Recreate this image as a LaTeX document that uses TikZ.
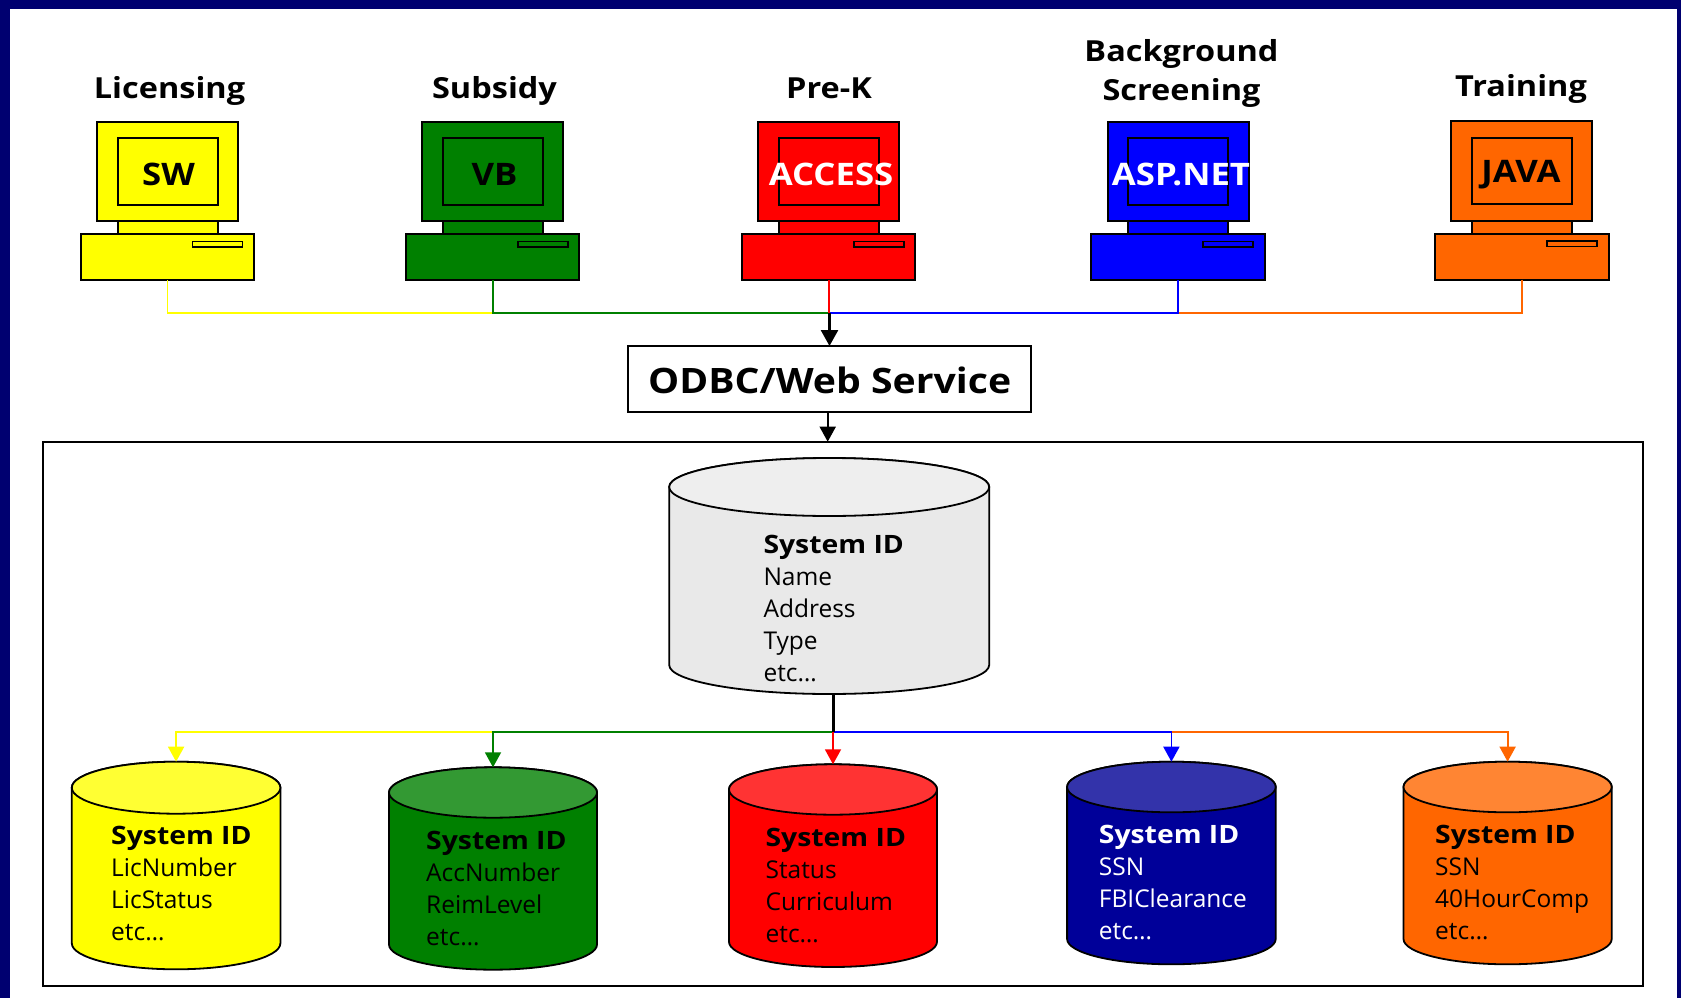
\documentclass[tikz,border=0pt]{standalone}
\usepackage{fontspec}
\setmainfont{Open Sans}[BoldFeatures={FakeStretch=1.12}]
\usetikzlibrary{arrows.meta,calc}
\definecolor{navyframe}{HTML}{000070}
\definecolor{cgreen}{HTML}{008000}\definecolor{cgreentop}{HTML}{339933}
\definecolor{cyellow}{HTML}{FFFF00}\definecolor{cyellowtop}{HTML}{FFFF33}
\definecolor{cred}{HTML}{FF0000}\definecolor{credtop}{HTML}{FF3333}
\definecolor{cblue}{HTML}{0000FF}
\definecolor{cnavy}{HTML}{000099}\definecolor{cnavytop}{HTML}{3333AA}
\definecolor{corange}{HTML}{FF6600}\definecolor{corangetop}{HTML}{FF8533}
\definecolor{cgrey}{HTML}{E9E9E9}\definecolor{cgreytop}{HTML}{EEEEEE}
\newcommand{\sysid}{{\fontsize{25.3}{32}\selectfont\bfseries System ID}}
\tikzset{
 x=1pt,y=-1pt,
 hw/.style={draw=black,line width=2pt,inner sep=0pt,outer sep=0pt},
 title/.style={font=\fontsize{29}{38}\selectfont\bfseries,inner sep=0pt,anchor=base},
 lang/.style={font=\fontsize{31}{38}\selectfont\bfseries,inner sep=0pt,anchor=base},
 dbtext/.style={font=\fontsize{24.5}{32}\selectfont,align=left,inner sep=0pt,anchor=base west},
 dbline/.style={draw=black,line width=1.8pt},
 wire/.style={line width=1.8pt},
 tip/.style={-{Triangle[length=15pt,width=16pt]}},
}
\newcommand{\pcnode}[4]{% name, cx, dy, colour
 \node[hw,fill=#4,minimum width=173.5pt,minimum height=46pt] (#1base) at (#2,257.2+#3) {};
 \node[hw,fill=#4,minimum width=100pt,minimum height=13pt] (#1neck) at (#2,227.7+#3) {};
 \node[hw,fill=#4,minimum width=141pt,minimum height=99.5pt] (#1mon) at (#2,171.5+#3) {};
 \node[hw,fill=#4,minimum width=100pt,minimum height=66.5pt] (#1scr) at (#2,171.5+#3) {};
 \node[hw,fill=#4,line width=1.6pt,minimum width=50pt,minimum height=5.5pt] (#1slot) at (#2+50,244.2+#3) {};
}
% name, cx, top y, width, height, cap half-height, body colour, cap colour
\newcommand{\dbcyl}[8]{%
 \node[inner sep=0pt,outer sep=0pt,minimum width=#4pt,minimum height=#5pt] (#1) at (#2,#3+#5/2) {};
 \draw[dbline,fill=#7] ($(#1.north west)+(0,#6)$) -- ($(#1.south west)-(0,#6)$)
   arc[start angle=180,end angle=360,x radius=#4pt/2,y radius=#6pt]
   -- ($(#1.north east)+(0,#6)$)
   arc[start angle=0,end angle=180,x radius=#4pt/2,y radius=#6pt] -- cycle;
 \draw[dbline,fill=#8] ($(#1.north)+(0,#6)$) ellipse[x radius=#4pt/2,y radius=#6pt];
}
\begin{document}
\begin{tikzpicture}
\useasboundingbox (0,0) rectangle (1681,998);
\fill[navyframe] (0,0) rectangle (1681,998);
\fill[white] (9.5,9) rectangle (1677,998);

\pcnode{lic}{167.5}{0}{cyellow}
\pcnode{sub}{492.7}{0}{cgreen}
\pcnode{pre}{828.7}{0}{cred}
\pcnode{bgs}{1178}{0}{cblue}
\pcnode{trn}{1521.8}{-0.6}{corange}

\node[title] (tlic) at (169.5,98) {Licensing};
\node[title] (tsub) at (494.5,98) {Subsidy};
\node[title] (tpre) at (829,98) {Pre-K};
\node[title] (tbgs) at (1181.5,62) {Background};
\node[title] (tbgs2) at (1181.5,100) {Screening};
\node[title] (ttrn) at (1521,96) {Training};

\node[lang] (lsw) at (168.5,185) {SW};
\node[lang] (lvb) at (494.5,185) {VB};
\node[lang,text=white] (lac) at (831,185) {ACCESS};
\node[lang,text=white] (las) at (1181,185) {ASP.NET};
\node[lang] (lja) at (1521,182) {JAVA};

\node[draw=black,fill=white,line width=2pt,inner sep=0pt,outer sep=0pt,minimum width=403pt,minimum height=66pt,
  text height=28.6pt,text depth=0pt,
  font=\fontsize{35}{44}\selectfont\bfseries] (odbc) at (829.7,379) {ODBC/Web Service};
\node[draw=black,line width=2pt,inner sep=0pt,outer sep=0pt,minimum width=1599.6pt,minimum height=544pt] (store) at (842.7,713.7) {};

% cylinders
\dbcyl{main}{829.2}{458}{320}{236}{29}{cgrey}{cgreytop}
\dbcyl{dlic}{176.1}{761.7}{208.6}{207.6}{26}{cyellow}{cyellowtop}
\dbcyl{dsub}{493}{767.3}{208}{202.4}{25.2}{cgreen}{cgreentop}
\dbcyl{dpre}{833}{764.3}{208}{202.7}{25.2}{cred}{credtop}
\dbcyl{dbgs}{1171.4}{761.7}{208.6}{202.6}{25.3}{cnavy}{cnavytop}
\dbcyl{dtrn}{1507.6}{761.7}{208.2}{202.6}{25.3}{corange}{corangetop}

\node[dbtext] (xmain) at (763.3,681) {\sysid\\Name\\Address\\Type\\etc\ldots};
\node[dbtext] (xlic) at (111,940) {\sysid\\LicNumber\\LicStatus\\etc\ldots};
\node[dbtext] (xsub) at (426,945) {\sysid\\AccNumber\\ReimLevel\\etc\ldots};
\node[dbtext] (xpre) at (765.4,942) {\sysid\\Status\\Curriculum\\etc\ldots};
\node[dbtext,text=white] (xbgs) at (1098.7,939) {\sysid\\SSN\\FBIClearance\\etc\ldots};
\node[dbtext] (xtrn) at (1435,939) {\sysid\\SSN\\40HourComp\\etc\ldots};

% top bus
\coordinate (bus) at (829.5,312.7);
\draw[wire,cyellow] (licbase.south) |- (bus -| subbase.south);
\draw[wire,corange] (trnbase.south) |- (bus -| bgsbase.south);
\draw[wire,cgreen] (subbase.south) |- (bus);
\draw[wire,cblue] (bgsbase.south) |- (bus);
\draw[wire,cred] (prebase.south) -- (bus -| prebase.south);
\draw[line width=2.6pt,-{Triangle[length=16pt,width=17pt]}] (bus) -- (bus |- odbc.north);
\draw[line width=1.8pt,tip] (odbc.south -| 827.7,0) -- (store.north -| 827.7,0);

% lower bus
\coordinate (lowbus) at (833,732);
\draw[wire,cyellow,tip] (lowbus -| dsub.north) -| (dlic.north);
\draw[wire,corange,tip] (lowbus -| dbgs.north) -| (dtrn.north);
\draw[wire,cgreen,tip] (lowbus) -| (dsub.north);
\draw[wire,cblue,tip] (lowbus) -| (dbgs.north);
\draw[wire,cred,tip] (lowbus) -- (dpre.north);
\draw[line width=3pt] (main.south -| lowbus) -- (lowbus);
\end{tikzpicture}
\end{document}
